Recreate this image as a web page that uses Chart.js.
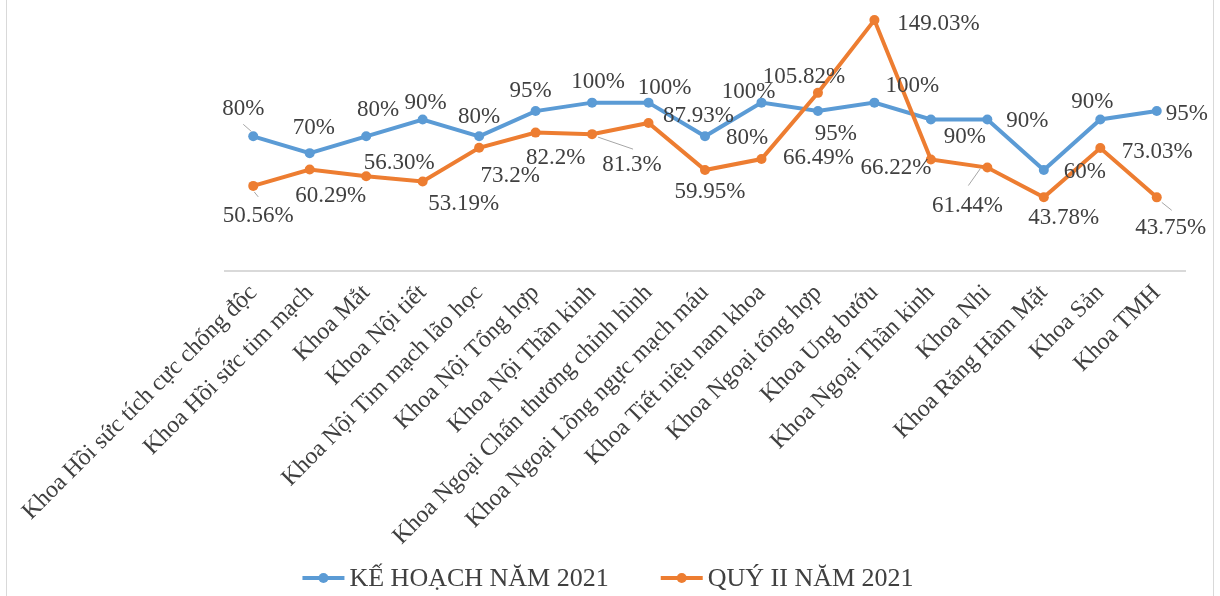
<!DOCTYPE html>
<html>
<head>
  <title>Kế hoạch năm 2021 - Quý II năm 2021</title>
  <script src="https://cdn.jsdelivr.net/npm/chart.js"></script>
  <style>
    html, body { margin: 0; padding: 0; background: #fff; }
    canvas { display: block; }
  </style>
</head>
<body>
  <canvas id="rateChart" width="1220" height="596"></canvas>

  <script>
    const departments = [
      'Khoa Hồi sức tích cực chống độc',
      'Khoa Hồi sức tim mạch',
      'Khoa Mắt',
      'Khoa Nội tiết',
      'Khoa Nội Tim mạch lão học',
      'Khoa Nội Tổng hợp',
      'Khoa Nội Thần kinh',
      'Khoa Ngoại Chấn thương chỉnh hình',
      'Khoa Ngoại Lồng ngực mạch máu',
      'Khoa Tiết niệu nam khoa',
      'Khoa Ngoại tổng hợp',
      'Khoa Ung bướu',
      'Khoa Ngoại Thần kinh',
      'Khoa Nhi',
      'Khoa Răng Hàm Mặt',
      'Khoa Sản',
      'Khoa TMH'
    ];
    const keHoach = [80, 70, 80, 90, 80, 95, 100, 100, 80, 100, 95, 100, 90, 90, 60, 90, 95];
    const quyII = [50.56, 60.29, 56.30, 53.19, 73.2, 82.2, 81.3, 87.93, 59.95, 66.49, 105.82, 149.03, 66.22, 61.44, 43.78, 73.03, 43.75];
    const keHoachText = ['80%', '70%', '80%', '90%', '80%', '95%', '100%', '100%', '80%', '100%', '95%', '100%', '90%', '90%', '60%', '90%', '95%'];
    const quyIIText = ['50.56%', '60.29%', '56.30%', '53.19%', '73.2%', '82.2%', '81.3%', '87.93%', '59.95%', '66.49%', '105.82%', '149.03%', '66.22%', '61.44%', '43.78%', '73.03%', '43.75%'];
    const seriesNames = ['KẾ HOẠCH NĂM 2021', 'QUÝ II NĂM 2021'];

    // where each data label sits relative to its point (hand placed, like the original)
    const blueLabelPos = [[-10,-27],[4,-25],[12,-26],[3,-17],[0,-19],[-5,-20],[6,-21],[16,-15],[42,2],
                          [-13,-11],[18,23],[38,-17],[34,17],[40,1],[41,2],[-8,-18],[30,3]];
    const orangeLabelPos = [[5,30],[21,26],[33,-13],[41,23],[31,28],[20,25],[40,31],[50,-7],[5,22],
                            [57,-1],[-14,-16],[64,4],[-35,8],[-20,38],[20,21],[57,4],[14,31]];
    // leader lines: point index -> [x1, y1, x2, y2] relative to the point
    const blueLeaders = { 0: [-10,-12,-2,-5] };
    const orangeLeaders = { 0: [1,6,5,11], 6: [6,3,41,15], 13: [-7,1,-19,18], 16: [5,5,15,13] };

    const BLUE = '#5B9BD5', ORANGE = '#ED7D31', TEXT = '#404040';
    const SERIF = '"Liberation Serif", "Times New Roman", serif';

    const labelPlugin = {
      id: 'labelPlugin',
      beforeDraw(chart) {
        const ctx = chart.ctx;
        ctx.save();
        ctx.strokeStyle = '#d9d9d9';
        ctx.lineWidth = 1;
        ctx.beginPath();
        ctx.moveTo(6.5, 0); ctx.lineTo(6.5, chart.height);
        ctx.moveTo(1213.5, 0); ctx.lineTo(1213.5, chart.height);
        ctx.stroke();
        ctx.restore();
      },
      afterDatasetsDraw(chart) {
        const ctx = chart.ctx;
        const sets = [
          { meta: chart.getDatasetMeta(0), text: keHoachText, pos: blueLabelPos, lead: blueLeaders },
          { meta: chart.getDatasetMeta(1), text: quyIIText, pos: orangeLabelPos, lead: orangeLeaders }
        ];
        ctx.save();
        ctx.font = '23px ' + SERIF;
        ctx.textAlign = 'center';
        ctx.textBaseline = 'middle';
        sets.forEach(s => {
          s.meta.data.forEach((pt, i) => {
            const l = s.lead[i];
            if (l) {
              ctx.strokeStyle = '#a6a6a6';
              ctx.lineWidth = 1;
              ctx.beginPath();
              ctx.moveTo(pt.x + l[0], pt.y + l[1]);
              ctx.lineTo(pt.x + l[2], pt.y + l[3]);
              ctx.stroke();
            }
            ctx.fillStyle = TEXT;
            ctx.fillText(s.text[i], pt.x + s.pos[i][0], pt.y + s.pos[i][1]);
          });
        });
        ctx.restore();
      },
      afterDraw(chart) {
        // legend: line + marker, then name
        const ctx = chart.ctx;
        ctx.save();
        ctx.font = '26px ' + SERIF;
        ctx.textBaseline = 'middle';
        const colors = [BLUE, ORANGE];
        const markW = 42, gapText = 5, gapItem = 52;
        const widths = seriesNames.map(n => ctx.measureText(n).width);
        const total = markW * 2 + gapText * 2 + widths[0] + widths[1] + gapItem;
        let x = chart.width / 2 - 2 - total / 2;
        const y = 578;
        seriesNames.forEach((name, i) => {
          ctx.strokeStyle = colors[i];
          ctx.lineWidth = 4;
          ctx.beginPath();
          ctx.moveTo(x, y); ctx.lineTo(x + markW, y);
          ctx.stroke();
          ctx.fillStyle = colors[i];
          ctx.beginPath();
          ctx.arc(x + markW / 2, y, 5, 0, Math.PI * 2);
          ctx.fill();
          ctx.fillStyle = TEXT;
          ctx.fillText(name, x + markW + gapText, y + 1);
          x += markW + gapText + widths[i] + gapItem;
        });
        ctx.restore();
      }
    };

    new Chart(document.getElementById('rateChart').getContext('2d'), {
      type: 'line',
      data: {
        labels: departments,
        datasets: [{
          label: seriesNames[0],
          data: keHoach,
          borderColor: BLUE,
          backgroundColor: BLUE,
          borderWidth: 4,
          pointRadius: 5,
          pointBorderWidth: 0,
          pointBackgroundColor: BLUE,
          order: 1,
          fill: false
        }, {
          label: seriesNames[1],
          data: quyII,
          borderColor: ORANGE,
          backgroundColor: ORANGE,
          borderWidth: 4,
          pointRadius: 5,
          pointBorderWidth: 0,
          pointBackgroundColor: ORANGE,
          order: 0,
          fill: false
        }]
      },
      options: {
        responsive: false,
        animation: false,
        devicePixelRatio: 1,
        layout: { padding: { top: 2, right: 35, left: 225, bottom: 0 } },
        plugins: { legend: { display: false }, tooltip: { enabled: false } },
        scales: {
          x: {
            offset: true,
            grid: { display: false, drawTicks: false },
            border: { display: true, color: '#d9d9d9', width: 2 },
            ticks: {
              autoSkip: false,
              minRotation: 45,
              maxRotation: 45,
              padding: 8,
              color: TEXT,
              font: { family: SERIF, size: 24 }
            },
            afterFit(axis) { axis.height = axis.chart.height - 271; }
          },
          y: { display: false, min: 0, max: 158 }
        }
      },
      plugins: [labelPlugin]
    });
  </script>
</body>
</html>
